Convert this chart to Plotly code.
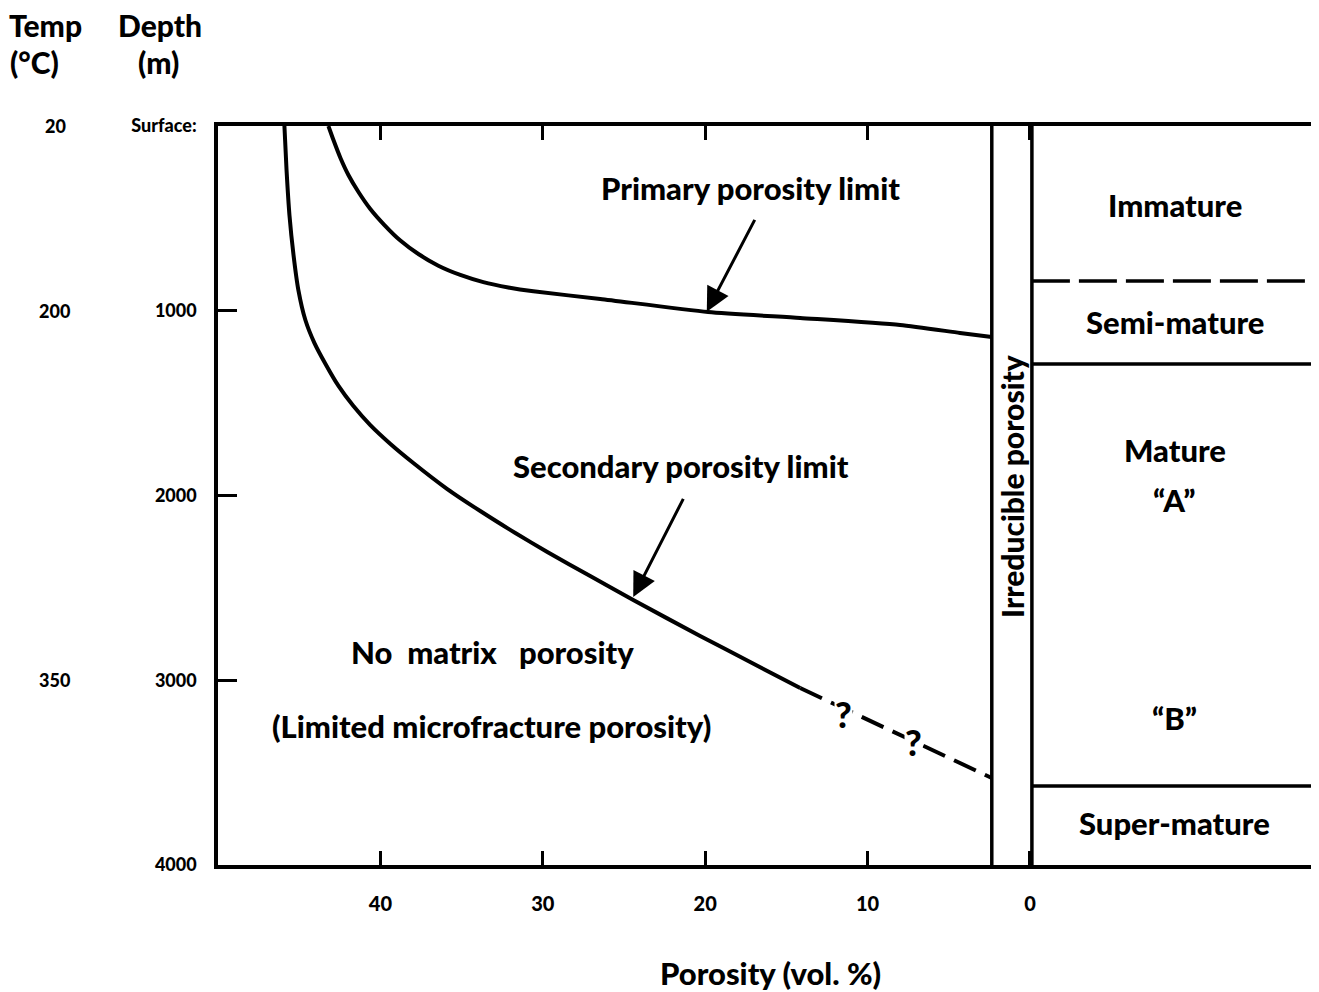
import plotly.graph_objects as go

# ---------------- data ----------------
primary_porosity = [43.2, 42.89, 42.46, 41.97, 41.35, 40.62, 39.75, 38.77, 37.66, 36.43, 35.08, 33.66, 32.12, 30.58, 26.46, 19.82, 14.15, 8.0, 4.31, 2.35]
primary_depth = [0, 76, 173, 265, 357, 449, 536, 620, 693, 756, 806, 845, 874, 895, 936, 1007, 1039, 1077, 1120, 1142]

secondary_porosity = [45.91, 45.78, 45.60, 45.35, 45.05, 44.62, 44.06, 43.38, 42.58, 41.66, 40.62, 39.38, 37.97, 35.88, 33.85, 31.69, 29.72, 27.08, 24.43, 20.31, 17.23, 14.15]
secondary_depth = [0, 238, 482, 698, 888, 1050, 1175, 1288, 1407, 1516, 1619, 1721, 1824, 1965, 2084, 2203, 2306, 2436, 2566, 2760, 2901, 3042]

secondary_dashed_porosity = [14.15, 2.35]
secondary_dashed_depth = [3042, 3529]

question_porosity = [11.5, 7.2]
question_depth = [3183, 3334]

irreducible_band = [2.35, -0.12]          # porosity edges of irreducible band
maturity_boundaries = [839, 1288, 3572]   # depth (m)
maturity_labels = ["Immature", "Semi-mature", "Mature", "\u201cA\u201d", "\u201cB\u201d", "Super-mature"]
maturity_label_depths = [428, 1061, 1754, 2024, 3204, 3773]

x_ticks = [40, 30, 20, 10, 0]
depth_ticks = [0, 1000, 2000, 3000, 4000]
depth_tick_text = ["Surface:", "1000", "2000", "3000", "4000"]
temp_values = ["20", "200", "350"]
temp_depths = [0, 1000, 3000]

X_MIN, X_MAX = 50, -17.8
D_MAX = 4000
FONT = "Lato, 'Open Sans', sans-serif"
BLACK = "#000000"
W8 = 900

fig = go.Figure()

fig.add_trace(go.Scatter(x=primary_porosity, y=primary_depth, mode="lines",
                         line=dict(color=BLACK, width=4, shape="spline", smoothing=0.6),
                         hoverinfo="skip", showlegend=False))
fig.add_trace(go.Scatter(x=secondary_porosity, y=secondary_depth, mode="lines",
                         line=dict(color=BLACK, width=4, shape="spline", smoothing=0.6),
                         hoverinfo="skip", showlegend=False))
fig.add_trace(go.Scatter(x=secondary_dashed_porosity, y=secondary_dashed_depth, mode="lines",
                         line=dict(color=BLACK, width=4, dash="24px,10px"),
                         hoverinfo="skip", showlegend=False))

shapes = []
for xv in irreducible_band:
    shapes.append(dict(type="line", xref="x", yref="y", x0=xv, x1=xv, y0=0, y1=D_MAX,
                       line=dict(color=BLACK, width=3.5)))
for i, d in enumerate(maturity_boundaries):
    shapes.append(dict(type="line", xref="x", yref="y", x0=irreducible_band[1], x1=X_MAX, y0=d, y1=d,
                       line=dict(color=BLACK, width=3.5, dash="38px,9px" if i == 0 else "solid")))

annotations = []
def txt(x, y, s, size, xref="x", yref="y", **kw):
    annotations.append(dict(x=x, y=y, xref=xref, yref=yref, text=s, showarrow=False,
                            xanchor="center", yanchor="middle",
                            font=dict(family=FONT, size=size, color=BLACK, weight=W8), **kw))

txt(17.23, 336, "Primary porosity limit", 31)
txt(21.48, 1840, "Secondary porosity limit", 31)
annotations.append(dict(x=19.9, y=1005, ax=16.9, ay=500, xref="x", yref="y", axref="x", ayref="y",
                        showarrow=True, arrowhead=2, arrowsize=1.6, arrowwidth=3, arrowcolor=BLACK, text=""))
annotations.append(dict(x=24.43, y=2549, ax=21.3, ay=2010, xref="x", yref="y", axref="x", ayref="y",
                        showarrow=True, arrowhead=2, arrowsize=1.6, arrowwidth=3, arrowcolor=BLACK, text=""))

txt(33.11, 2847, "No  matrix   porosity", 31)
txt(33.17, 3248, "(Limited microfracture porosity)", 31)

for qx, qy in zip(question_porosity, question_depth):
    txt(qx, qy, "?", 36, bgcolor="white", borderpad=0)

txt(sum(irreducible_band) / 2, 1949, "Irreducible porosity", 30, textangle=-90)

for s, d in zip(maturity_labels, maturity_label_depths):
    txt(-8.93, d, s, 31)

for t, d in zip(temp_values, temp_depths):
    txt(-0.148, d, t, 18, xref="paper")

txt(-0.157, 1.136, "Temp", 30, xref="paper", yref="paper", borderpad=0)
txt(-0.167, 1.0866, "(\u00b0C)", 30, xref="paper", yref="paper", borderpad=0)
txt(-0.053, 1.136, "Depth", 30, xref="paper", yref="paper", borderpad=0)
txt(-0.054, 1.0866, "(m)", 30, xref="paper", yref="paper", borderpad=0)

txt(0.5014, -0.146, "Porosity (vol. %)", 31, xref="paper", yref="paper")

fig.update_layout(
    width=1311, height=984,
    margin=dict(l=210, r=0, t=118, b=127),
    paper_bgcolor="white", plot_bgcolor="white",
    shapes=shapes, annotations=annotations,
    showlegend=False,
    xaxis=dict(range=[X_MIN, X_MAX], showgrid=False, zeroline=False,
               showline=True, linecolor=BLACK, linewidth=3.5, mirror="allticks",
               ticks="inside", ticklen=14, tickwidth=3, tickcolor=BLACK,
               tickvals=x_ticks, ticktext=[str(v) for v in x_ticks],
               tickfont=dict(family=FONT, size=20, color=BLACK, weight=W8),
               ticklabelstandoff=18, fixedrange=True),
    yaxis=dict(range=[D_MAX, 0], showgrid=False, zeroline=False,
               showline=True, linecolor=BLACK, linewidth=3.5, mirror=False,
               ticks="inside", ticklen=19, tickwidth=3, tickcolor=BLACK,
               tickvals=depth_ticks, ticktext=depth_tick_text,
               tickfont=dict(family=FONT, size=18, color=BLACK, weight=W8),
               ticklabelstandoff=14, fixedrange=True),
)

fig.write_html("out.html")
